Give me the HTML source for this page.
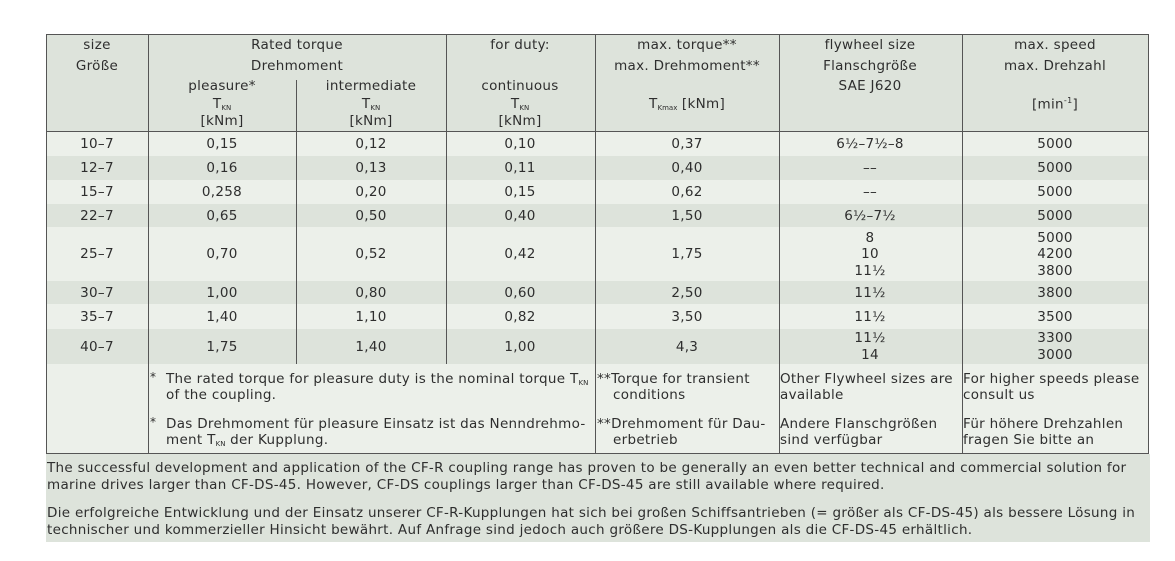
<!DOCTYPE html>
<html><head><meta charset="utf-8"><style>
body{margin:0;background:#fff;width:1175px;height:561px;position:relative;overflow:hidden;font-family:"DejaVu Sans","Liberation Sans",sans-serif;font-size:13.5px;color:#2e2e2e;letter-spacing:0.3px}
.b{position:absolute}
.c{position:absolute;transform:translate(-50%,-50%);white-space:nowrap}
.l{position:absolute;transform:translateY(-50%);white-space:nowrap}
.v{position:absolute;width:1px;background:#555}
.h{position:absolute;height:1px;background:#555}
sub{font-size:7px;vertical-align:-2px;letter-spacing:0}
sup{font-size:8px}
</style></head><body>
<div class="b" style="left:46px;top:34px;width:1102px;height:97px;background:#dde3db"></div>
<div class="b" style="left:46px;top:131px;width:1102px;height:25px;background:#ecf0ea"></div>
<div class="b" style="left:46px;top:156px;width:1102px;height:24px;background:#dde3db"></div>
<div class="b" style="left:46px;top:180px;width:1102px;height:24px;background:#ecf0ea"></div>
<div class="b" style="left:46px;top:204px;width:1102px;height:23px;background:#dde3db"></div>
<div class="b" style="left:46px;top:227px;width:1102px;height:54px;background:#ecf0ea"></div>
<div class="b" style="left:46px;top:281px;width:1102px;height:23px;background:#dde3db"></div>
<div class="b" style="left:46px;top:304px;width:1102px;height:25px;background:#ecf0ea"></div>
<div class="b" style="left:46px;top:329px;width:1102px;height:35px;background:#dde3db"></div>
<div class="b" style="left:46px;top:364px;width:1102px;height:89px;background:#ecf0ea"></div>
<div class="b" style="left:46px;top:454px;width:1104px;height:88px;background:#dde3db"></div>

<div class="h" style="left:46px;top:34px;width:1103px"></div>
<div class="h" style="left:46px;top:131px;width:1103px"></div>
<div class="h" style="left:46px;top:453px;width:1103px"></div>
<div class="v" style="left:46px;top:34px;height:420px"></div>
<div class="v" style="left:148px;top:34px;height:420px"></div>
<div class="v" style="left:296px;top:80px;height:284px"></div>
<div class="v" style="left:446px;top:34px;height:330px"></div>
<div class="v" style="left:595px;top:34px;height:420px"></div>
<div class="v" style="left:779px;top:34px;height:420px"></div>
<div class="v" style="left:962px;top:34px;height:420px"></div>
<div class="v" style="left:1148px;top:34px;height:420px"></div>

<div class="c" style="left:97px;top:45px">size</div>
<div class="c" style="left:97px;top:66px">Größe</div>
<div class="c" style="left:297px;top:45px">Rated torque</div>
<div class="c" style="left:297px;top:66px">Drehmoment</div>
<div class="c" style="left:222px;top:86px">pleasure*</div>
<div class="c" style="left:222px;top:104px">T<sub>KN</sub></div>
<div class="c" style="left:222px;top:121px">[kNm]</div>
<div class="c" style="left:371px;top:86px">intermediate</div>
<div class="c" style="left:371px;top:104px">T<sub>KN</sub></div>
<div class="c" style="left:371px;top:121px">[kNm]</div>
<div class="c" style="left:520px;top:45px">for duty:</div>
<div class="c" style="left:520px;top:86px">continuous</div>
<div class="c" style="left:520px;top:104px">T<sub>KN</sub></div>
<div class="c" style="left:520px;top:121px">[kNm]</div>
<div class="c" style="left:687px;top:45px">max. torque**</div>
<div class="c" style="left:687px;top:66px">max. Drehmoment**</div>
<div class="c" style="left:687px;top:104px">T<sub>Kmax</sub> [kNm]</div>
<div class="c" style="left:870px;top:45px">flywheel size</div>
<div class="c" style="left:870px;top:66px">Flanschgröße</div>
<div class="c" style="left:870px;top:86px">SAE J620</div>
<div class="c" style="left:1055px;top:45px">max. speed</div>
<div class="c" style="left:1055px;top:66px">max. Drehzahl</div>
<div class="c" style="left:1055px;top:104px">[min<sup>-1</sup>]</div>

<div class="c" style="left:97px;top:144px">10–7</div><div class="c" style="left:222px;top:144px">0,15</div><div class="c" style="left:371px;top:144px">0,12</div><div class="c" style="left:520px;top:144px">0,10</div><div class="c" style="left:687px;top:144px">0,37</div><div class="c" style="left:870px;top:144px">6½–7½–8</div><div class="c" style="left:1055px;top:144px">5000</div>
<div class="c" style="left:97px;top:168px">12–7</div><div class="c" style="left:222px;top:168px">0,16</div><div class="c" style="left:371px;top:168px">0,13</div><div class="c" style="left:520px;top:168px">0,11</div><div class="c" style="left:687px;top:168px">0,40</div><div class="c" style="left:870px;top:168px">––</div><div class="c" style="left:1055px;top:168px">5000</div>
<div class="c" style="left:97px;top:192px">15–7</div><div class="c" style="left:222px;top:192px">0,258</div><div class="c" style="left:371px;top:192px">0,20</div><div class="c" style="left:520px;top:192px">0,15</div><div class="c" style="left:687px;top:192px">0,62</div><div class="c" style="left:870px;top:192px">––</div><div class="c" style="left:1055px;top:192px">5000</div>
<div class="c" style="left:97px;top:216px">22–7</div><div class="c" style="left:222px;top:216px">0,65</div><div class="c" style="left:371px;top:216px">0,50</div><div class="c" style="left:520px;top:216px">0,40</div><div class="c" style="left:687px;top:216px">1,50</div><div class="c" style="left:870px;top:216px">6½–7½</div><div class="c" style="left:1055px;top:216px">5000</div>
<div class="c" style="left:97px;top:254px">25–7</div><div class="c" style="left:222px;top:254px">0,70</div><div class="c" style="left:371px;top:254px">0,52</div><div class="c" style="left:520px;top:254px">0,42</div><div class="c" style="left:687px;top:254px">1,75</div>
<div class="c" style="left:870px;top:238px">8</div><div class="c" style="left:870px;top:254px">10</div><div class="c" style="left:870px;top:271px">11½</div>
<div class="c" style="left:1055px;top:238px">5000</div><div class="c" style="left:1055px;top:254px">4200</div><div class="c" style="left:1055px;top:271px">3800</div>
<div class="c" style="left:97px;top:293px">30–7</div><div class="c" style="left:222px;top:293px">1,00</div><div class="c" style="left:371px;top:293px">0,80</div><div class="c" style="left:520px;top:293px">0,60</div><div class="c" style="left:687px;top:293px">2,50</div><div class="c" style="left:870px;top:293px">11½</div><div class="c" style="left:1055px;top:293px">3800</div>
<div class="c" style="left:97px;top:317px">35–7</div><div class="c" style="left:222px;top:317px">1,40</div><div class="c" style="left:371px;top:317px">1,10</div><div class="c" style="left:520px;top:317px">0,82</div><div class="c" style="left:687px;top:317px">3,50</div><div class="c" style="left:870px;top:317px">11½</div><div class="c" style="left:1055px;top:317px">3500</div>
<div class="c" style="left:97px;top:347px">40–7</div><div class="c" style="left:222px;top:347px">1,75</div><div class="c" style="left:371px;top:347px">1,40</div><div class="c" style="left:520px;top:347px">1,00</div><div class="c" style="left:687px;top:347px">4,3</div>
<div class="c" style="left:870px;top:338px">11½</div><div class="c" style="left:870px;top:355px">14</div>
<div class="c" style="left:1055px;top:338px">3300</div><div class="c" style="left:1055px;top:355px">3000</div>

<div class="l" style="left:150px;top:377px;font-size:12px">*</div>
<div class="l" style="left:166px;top:379px">The rated torque for pleasure duty is the nominal torque T<sub>KN</sub></div>
<div class="l" style="left:166px;top:395px">of the coupling.</div>
<div class="l" style="left:150px;top:422px;font-size:12px">*</div>
<div class="l" style="left:166px;top:424px">Das Drehmoment für pleasure Einsatz ist das Nenndrehmo-</div>
<div class="l" style="left:166px;top:440px">ment T<sub>KN</sub> der Kupplung.</div>
<div class="l" style="left:597px;top:379px">**Torque for transient</div>
<div class="l" style="left:613px;top:395px">conditions</div>
<div class="l" style="left:597px;top:424px">**Drehmoment für Dau-</div>
<div class="l" style="left:613px;top:440px">erbetrieb</div>
<div class="l" style="left:780px;top:379px">Other Flywheel sizes are</div>
<div class="l" style="left:780px;top:395px">available</div>
<div class="l" style="left:780px;top:424px">Andere Flanschgrößen</div>
<div class="l" style="left:780px;top:440px">sind verfügbar</div>
<div class="l" style="left:963px;top:379px">For higher speeds please</div>
<div class="l" style="left:963px;top:395px">consult us</div>
<div class="l" style="left:963px;top:424px">Für höhere Drehzahlen</div>
<div class="l" style="left:963px;top:440px">fragen Sie bitte an</div>

<div class="l" style="left:47px;top:468px">The successful development and application of the CF-R coupling range has proven to be generally an even better technical and commercial solution for</div>
<div class="l" style="left:47px;top:485px">marine drives larger than CF-DS-45. However, CF-DS couplings larger than CF-DS-45 are still available where required.</div>
<div class="l" style="left:47px;top:513px">Die erfolgreiche Entwicklung und der Einsatz unserer CF-R-Kupplungen hat sich bei großen Schiffsantrieben (= größer als CF-DS-45) als bessere Lösung in</div>
<div class="l" style="left:47px;top:530px">technischer und kommerzieller Hinsicht bewährt. Auf Anfrage sind jedoch auch größere DS-Kupplungen als die CF-DS-45 erhältlich.</div>
</body></html>
